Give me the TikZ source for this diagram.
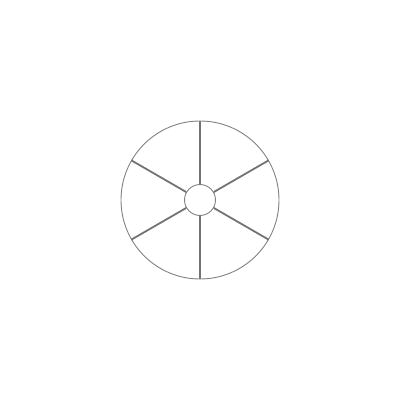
\documentclass[tikz,border=0pt]{standalone}
\begin{document}
\begin{tikzpicture}[x=1pt,y=1pt,
  rim/.style={draw=black!50, line width=0.9pt},
  spoke/.style={draw=black!55, line width=1.8pt}]
\useasboundingbox (0,0) rectangle (400,400);
\coordinate (c) at (200,200);
\node[circle, minimum size=158pt, inner sep=0pt, rim] (outer) at (c) {};
\node[circle, minimum size=31pt, inner sep=0pt, rim, fill=white] (hub) at (c) {};
\foreach \a in {90,30,-30,-90,-150,150} {
  \draw[spoke] (hub.\a) -- (outer.\a);
}
\end{tikzpicture}
\end{document}
